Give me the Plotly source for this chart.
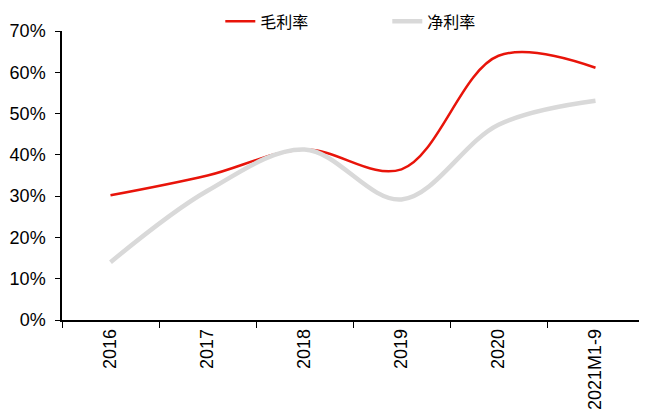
import plotly.graph_objects as go

categories = ["2016", "2017", "2018", "2019", "2020", "2021M1-9"]
gross_margin = [30.2, 35.0, 41.3, 36.5, 64.0, 61.1]
net_margin = [14.0, 31.3, 41.3, 29.2, 47.3, 53.1]
y_ticks = [0, 10, 20, 30, 40, 50, 60, 70]
y_tick_labels = [f"{v}%" for v in y_ticks]

fig = go.Figure()
fig.add_trace(go.Scatter(
    x=categories, y=gross_margin, name="毛利率", mode="lines",
    line=dict(color="#E8140A", width=2.5, shape="spline", smoothing=1.0),
))
fig.add_trace(go.Scatter(
    x=categories, y=net_margin, name="净利率", mode="lines",
    line=dict(color="#D9D9D9", width=4.5, shape="spline", smoothing=1.0),
))

fig.update_layout(
    width=647, height=416,
    margin=dict(l=54, r=11, t=23, b=104, autoexpand=False),
    plot_bgcolor="white", paper_bgcolor="white",
    font=dict(family="Liberation Sans, Arial", color="#000000", size=18),
    showlegend=True,
    legend=dict(orientation="h", x=0.272, xanchor="left", y=1.092, yanchor="top",
                font=dict(family="Noto Sans CJK SC", size=16, color="#000000"),
                bgcolor="rgba(0,0,0,0)", entrywidth=122, entrywidthmode="pixels"),
    xaxis=dict(
        type="category", showline=True, linecolor="#000000", linewidth=1.5,
        ticks="outside", tickson="boundaries", ticklen=6, tickcolor="#000000",
        tickangle=-90, showgrid=False, zeroline=False, automargin=False,
        tickfont=dict(family="Liberation Sans, Arial", size=18),
        range=[-0.5, 5.5],
    ),
    yaxis=dict(
        range=[0, 70], tickvals=y_ticks, ticktext=y_tick_labels,
        showline=True, linecolor="#000000", linewidth=1.5,
        ticks="outside", ticklen=5, tickcolor="#000000",
        showgrid=False, zeroline=False, automargin=False,
        ticklabelstandoff=6,
        tickfont=dict(family="Liberation Sans, Arial", size=18),
    ),
)

fig.write_html("out.html")
